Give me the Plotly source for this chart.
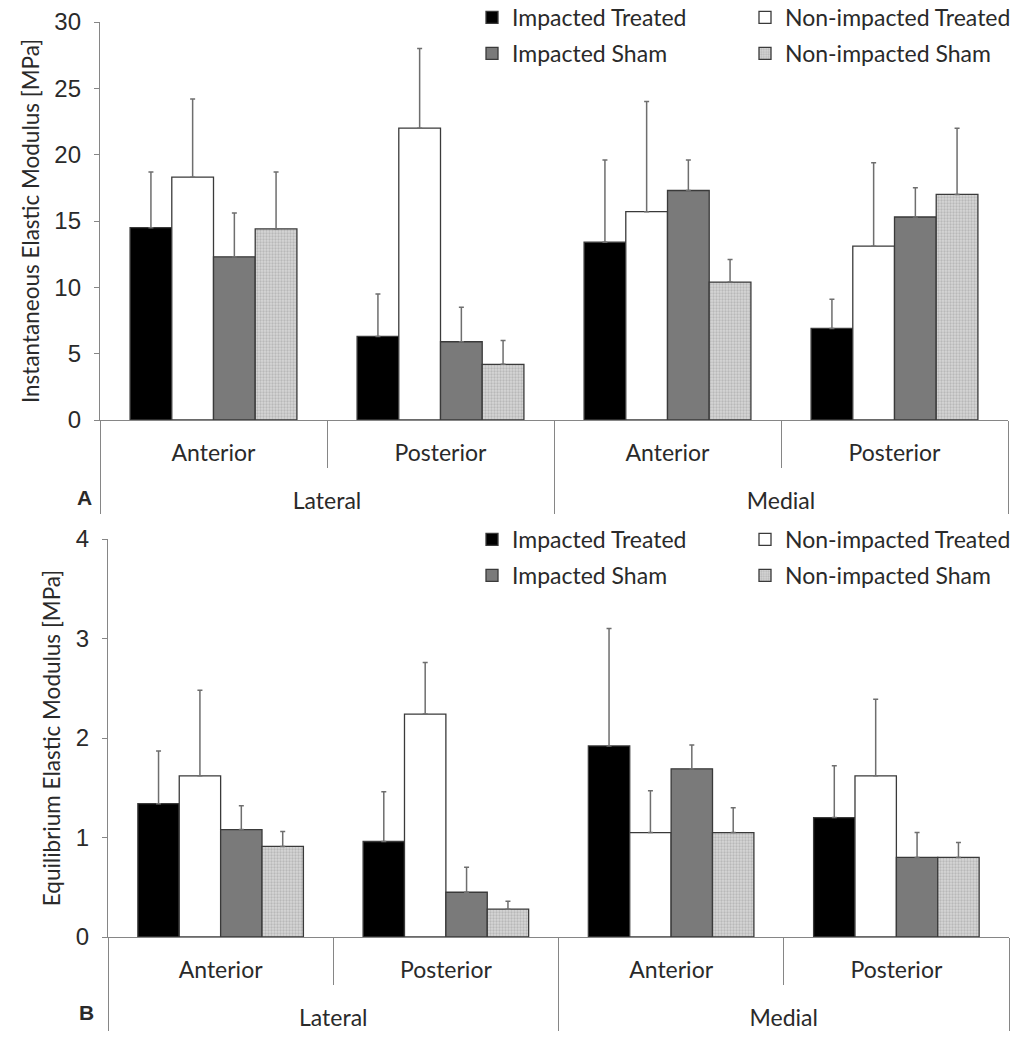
import plotly.graph_objects as go

# ---- data ----
regions = ["Lateral", "Lateral", "Medial", "Medial"]
sites = ["Anterior", "Posterior", "Anterior", "Posterior"]
series_names = ["Impacted Treated", "Non-impacted Treated", "Impacted Sham", "Non-impacted Sham"]

# Panel A: instantaneous elastic modulus [MPa]
inst_impacted_treated = [14.5, 6.3, 13.4, 6.9]
inst_nonimpacted_treated = [18.3, 22.0, 15.7, 13.1]
inst_impacted_sham = [12.3, 5.9, 17.3, 15.3]
inst_nonimpacted_sham = [14.4, 4.2, 10.4, 17.0]
inst_err_impacted_treated = [4.2, 3.2, 6.2, 2.2]
inst_err_nonimpacted_treated = [5.9, 6.0, 8.3, 6.3]
inst_err_impacted_sham = [3.3, 2.6, 2.3, 2.2]
inst_err_nonimpacted_sham = [4.3, 1.8, 1.7, 5.0]

# Panel B: equilibrium elastic modulus [MPa]
eq_impacted_treated = [1.34, 0.96, 1.92, 1.20]
eq_nonimpacted_treated = [1.62, 2.24, 1.05, 1.62]
eq_impacted_sham = [1.08, 0.45, 1.69, 0.80]
eq_nonimpacted_sham = [0.91, 0.28, 1.05, 0.80]
eq_err_impacted_treated = [0.53, 0.50, 1.18, 0.52]
eq_err_nonimpacted_treated = [0.86, 0.52, 0.42, 0.77]
eq_err_impacted_sham = [0.24, 0.25, 0.24, 0.25]
eq_err_nonimpacted_sham = [0.15, 0.08, 0.25, 0.15]

inst_tick_vals = [0, 5, 10, 15, 20, 25, 30]
eq_tick_vals = [0, 1, 2, 3, 4]

# ---- styling ----
W, H = 1033, 1050
LABEL_FONT = "Lato"
NUM_FONT = "Liberation Sans"
TEXT_COLOR = "#2a2a2a"
AXIS_COLOR = "#868686"

styles = [
    dict(color="#000000"),
    dict(color="#ffffff"),
    dict(color="#7a7a7a"),
    dict(color="#c6c6c6",
         pattern=dict(shape=".", fgcolor="#9a9a9a", bgcolor="#d6d6d6", size=3, solidity=0.45)),
]

fig = go.Figure()
# an empty second line under the site names leaves room above the region row
site_labels = [s + "<br>&nbsp;" for s in sites]
x_multi = [regions, site_labels]

panels = [
    ("x", "y", ["legend", "legend2"],
     [inst_impacted_treated, inst_nonimpacted_treated, inst_impacted_sham, inst_nonimpacted_sham],
     [inst_err_impacted_treated, inst_err_nonimpacted_treated, inst_err_impacted_sham, inst_err_nonimpacted_sham]),
    ("x2", "y2", ["legend3", "legend4"],
     [eq_impacted_treated, eq_nonimpacted_treated, eq_impacted_sham, eq_nonimpacted_sham],
     [eq_err_impacted_treated, eq_err_nonimpacted_treated, eq_err_impacted_sham, eq_err_nonimpacted_sham]),
]

for xa, ya, legs, vals, errs in panels:
    for i, name in enumerate(series_names):
        mk = dict(styles[i])
        mk["line"] = dict(color="#3a3a3a", width=1.3)
        fig.add_trace(go.Bar(
            x=x_multi, y=vals[i], name=name,
            marker=mk,
            error_y=dict(type="data", symmetric=False, array=errs[i],
                         arrayminus=[0] * len(errs[i]),
                         color="#6e6e6e", thickness=1.5, width=2.5),
            xaxis=xa, yaxis=ya,
            legend=legs[i % 2], legendgroup=f"{xa}{i}",
        ))

def px_x(p):
    return p / W

def px_y(p):
    return 1 - p / H

xaxis_common = dict(
    type="multicategory", showline=True, linecolor=AXIS_COLOR, linewidth=1.3,
    showgrid=False, ticks="outside", tickson="boundaries", ticklen=47,
    tickcolor=AXIS_COLOR, tickwidth=1.3,
    showdividers=True, dividercolor=AXIS_COLOR, dividerwidth=1.3,
    tickfont=dict(family=LABEL_FONT, size=23, color=TEXT_COLOR),
    ticklabelstandoff=12, automargin=False,
    zeroline=False,
)
yaxis_common = dict(
    showline=True, linecolor=AXIS_COLOR, linewidth=1.3, showgrid=False,
    ticks="outside", ticklen=5, tickcolor=AXIS_COLOR, tickwidth=1.3,
    tickfont=dict(family=NUM_FONT, size=24, color=TEXT_COLOR),
    zeroline=False, ticklabelstandoff=8, automargin=False,
)

fig.update_layout(
    width=W, height=H, margin=dict(l=0, r=0, t=0, b=0, autoexpand=False),
    paper_bgcolor="white", plot_bgcolor="white",
    barmode="group", bargap=0.265, bargroupgap=0,
    showlegend=True,
    xaxis=dict(xaxis_common, domain=[px_x(100), px_x(1008)], anchor="y"),
    yaxis=dict(yaxis_common, domain=[px_y(420), px_y(22)], anchor="x",
               range=[0, 30], tickvals=inst_tick_vals,
               title=dict(text="Instantaneous Elastic Modulus [MPa]",
                          font=dict(family=LABEL_FONT, size=22.5, color=TEXT_COLOR), standoff=8)),
    xaxis2=dict(xaxis_common, domain=[px_x(108), px_x(1009)], anchor="y2"),
    yaxis2=dict(yaxis_common, domain=[px_y(937), px_y(539)], anchor="x2",
                range=[0, 4], tickvals=eq_tick_vals,
                title=dict(text="Equilibrium Elastic Modulus [MPa]",
                           font=dict(family=LABEL_FONT, size=22.5, color=TEXT_COLOR), standoff=8)),
)

leg_common = dict(
    orientation="v", xanchor="left", yanchor="top", bgcolor="rgba(0,0,0,0)",
    font=dict(family=LABEL_FONT, size=23, color=TEXT_COLOR),
    tracegroupgap=3, itemwidth=30, traceorder="grouped",
)
fig.update_layout(
    legend=dict(leg_common, x=px_x(472), y=px_y(-4)),
    legend2=dict(leg_common, x=px_x(745), y=px_y(-4)),
    legend3=dict(leg_common, x=px_x(472), y=px_y(518)),
    legend4=dict(leg_common, x=px_x(745), y=px_y(518)),
)

fig.add_annotation(text="<b>A</b>", x=px_x(84), y=px_y(497), xref="paper", yref="paper",
                   xanchor="center", yanchor="middle", showarrow=False,
                   font=dict(family=NUM_FONT, size=21, color=TEXT_COLOR))
fig.add_annotation(text="<b>B</b>", x=px_x(86), y=px_y(1012), xref="paper", yref="paper",
                   xanchor="center", yanchor="middle", showarrow=False,
                   font=dict(family=NUM_FONT, size=21, color=TEXT_COLOR))

fig.write_html("out.html", config={"displayModeBar": False},
               post_script="document.body.style.margin='0px';")
